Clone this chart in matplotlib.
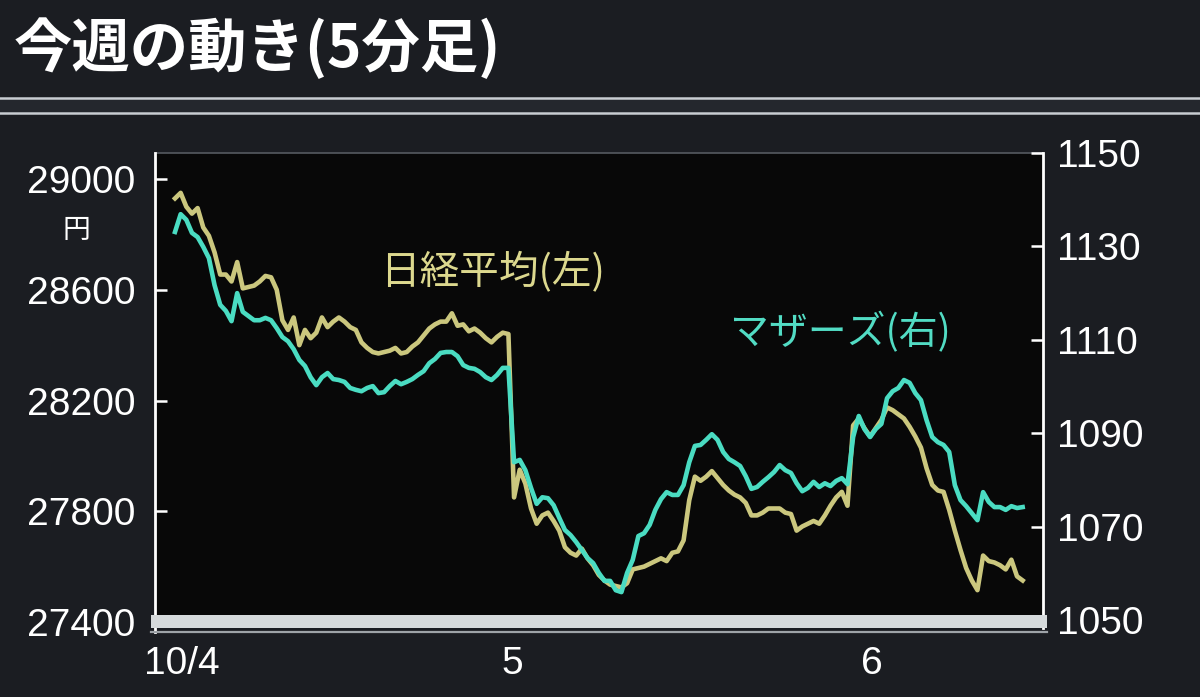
import matplotlib
matplotlib.use('Agg')
import matplotlib.pyplot as plt
from matplotlib.patches import Rectangle
from matplotlib.lines import Line2D

# ---------------- data ----------------
title = '今週の動き(5分足)'
nikkei_label = '日経平均(左)'
mothers_label = 'マザーズ(右)'
yen_unit = '円'

# 5-minute bars: 10/4 (60 bars), 10/5 (60 bars), 10/6 morning (31 bars)
nikkei = [
    28930, 28950, 28900, 28875, 28895, 28825, 28795, 28735, 28655, 28655,
    28630, 28700, 28605, 28610, 28615, 28630, 28650, 28645, 28600, 28490,
    28455, 28500, 28400, 28455, 28425, 28445, 28500, 28465, 28485, 28500,
    28485, 28465, 28455, 28410, 28390, 28375, 28370, 28375, 28380, 28390,
    28370, 28375, 28395, 28410, 28435, 28460, 28475, 28485, 28485, 28515,
    28470, 28475, 28450, 28460, 28445, 28425, 28410, 28430, 28445, 28440,
    27850, 27950, 27900, 27810, 27755, 27785, 27795, 27765, 27730, 27670,
    27650, 27640, 27665, 27630, 27605, 27570, 27550, 27535, 27530, 27525,
    27540, 27590, 27595, 27600, 27610, 27620, 27630, 27620, 27650, 27655,
    27695, 27840, 27925, 27910, 27925, 27945, 27920, 27895, 27875, 27860,
    27850, 27830, 27785, 27785, 27795, 27810, 27810, 27810, 27795, 27790,
    27730, 27745, 27755, 27765, 27755, 27785, 27820, 27850, 27870, 27820,
    28110, 28135, 28100, 28070, 28100, 28130, 28175, 28165, 28150, 28135,
    28105, 28070, 28030, 27955, 27895, 27875, 27870, 27805, 27730, 27660,
    27595, 27550, 27515, 27640, 27620, 27615, 27605, 27590, 27625, 27565, 27550,
]
mothers = [
    1133.1, 1136.9, 1135.7, 1132.9, 1132.0, 1129.9, 1127.5, 1121.7, 1117.5, 1116.2,
    1114.0, 1120.0, 1116.0, 1115.1, 1114.2, 1114.2, 1114.7, 1114.2, 1112.5, 1110.6,
    1109.7, 1108.0, 1105.7, 1104.4, 1102.0, 1100.3, 1102.0, 1102.9, 1101.6, 1101.4,
    1101.0, 1099.7, 1099.3, 1099.0, 1099.7, 1100.1, 1098.6, 1098.8, 1100.1, 1101.2,
    1100.5, 1101.0, 1101.6, 1102.5, 1103.3, 1105.0, 1105.9, 1107.2, 1107.4, 1107.4,
    1106.5, 1104.6, 1104.0, 1103.8, 1103.1, 1102.0, 1101.4, 1102.5, 1104.0, 1104.0,
    1083.8, 1084.3, 1082.1, 1078.3, 1074.9, 1076.3, 1076.1, 1074.6, 1071.9, 1069.3,
    1068.2, 1066.7, 1065.0, 1063.3, 1062.2, 1060.1, 1058.4, 1058.4, 1056.4, 1056.0,
    1060.1, 1062.9, 1068.0, 1068.6, 1070.4, 1073.6, 1075.9, 1077.4, 1076.8, 1076.8,
    1078.9, 1083.8, 1087.3, 1087.5, 1088.6, 1089.8, 1088.6, 1086.0, 1084.5, 1083.8,
    1083.0, 1080.8, 1078.1, 1078.5, 1079.6, 1080.6, 1081.7, 1083.2, 1082.1, 1081.5,
    1079.3, 1077.6, 1078.3, 1079.6, 1078.5, 1079.3, 1078.7, 1079.8, 1080.4, 1079.1,
    1089.2, 1093.7, 1090.9, 1089.2, 1090.9, 1092.0, 1097.5, 1099.0, 1099.7, 1101.4,
    1100.8, 1098.6, 1097.1, 1092.8, 1089.2, 1088.1, 1087.5, 1086.0, 1078.9, 1075.7,
    1074.4, 1072.9, 1071.4, 1077.4, 1075.3, 1074.2, 1074.2, 1073.6, 1074.4, 1074.0, 1074.2,
]
bars = list(range(len(nikkei)))

xtick_labels = ['10/4', '5', '6']
xtick_bars = [1.2, 59.6, 123.4]
left_ticks = [27400, 27800, 28200, 28600, 29000]
right_ticks = [1050, 1070, 1090, 1110, 1130, 1150]

# ---------------- style ----------------
W, H = 1200, 697
BG = '#1b1d22'
PLOT_BG = '#080808'
YELLOW = '#cbc77e'
TEAL = '#4adcc2'
NUM_FONT = ['Liberation Sans', 'Noto Sans CJK JP']
JP_FONT = ['Noto Sans CJK JP', 'DejaVu Sans']

fig = plt.figure(figsize=(W / 100, H / 100), dpi=100)
fig.patch.set_facecolor(BG)


def fx(px):
    return px / W


def fy(py):
    return 1 - py / H


ax_l, ax_r, ax_t, ax_b = 155, 1043, 153, 622
ax = fig.add_axes([fx(ax_l), fy(ax_b), (ax_r - ax_l) / W, (ax_b - ax_t) / H])
ax.set_facecolor(PLOT_BG)
ax.set_xlim(-3.54, 153.6)
ax.set_ylim(27400, 29094)
ax2 = ax.twinx()
ax2.set_ylim(1049.6, 1150)

ax.plot(bars, nikkei, color=YELLOW, lw=3.3, solid_joinstyle='round', zorder=3)
ax2.plot(bars, mothers, color=TEAL, lw=3.3, solid_joinstyle='round', zorder=3)

for a in (ax, ax2):
    for s in a.spines.values():
        s.set_visible(False)
ax.spines['top'].set_visible(True)
ax.spines['top'].set_color('#555a60')
ax.spines['top'].set_linewidth(1.2)

ax.set_xticks(xtick_bars)
ax.set_xticklabels(xtick_labels)
ax.tick_params(axis='x', length=0, pad=17, labelsize=28, labelcolor='white')
for t in ax.get_xticklabels():
    t.set_family(NUM_FONT)

ax.set_yticks(left_ticks)
ax.set_yticklabels([str(v) for v in left_ticks])
ax.tick_params(axis='y', direction='in', length=8.6, width=1.8, color='white',
               pad=14, labelsize=28, labelcolor='white')
for t in ax.get_yticklabels():
    t.set_family(NUM_FONT)

ax2.set_yticks(right_ticks)
ax2.set_yticklabels([str(v) for v in right_ticks])
ax2.tick_params(axis='y', direction='in', length=8.6, width=1.8, color='white',
                pad=10, labelsize=28, labelcolor='white')
for t in ax2.get_yticklabels():
    t.set_family(NUM_FONT)

# axis lines drawn on the figure
fig.add_artist(Line2D([fx(ax_l), fx(ax_l)], [fy(153), fy(632)], color='white', lw=2.0))
fig.add_artist(Line2D([fx(ax_r), fx(ax_r)], [fy(153), fy(628)], color='white', lw=2.0))
# bottom band
fig.add_artist(Rectangle((fx(151), fy(628)), (1047 - 151) / W, 13 / H,
                         facecolor='#d6dadc', edgecolor='none', zorder=5))
fig.add_artist(Line2D([fx(151), fx(1047)], [fy(631.5), fy(631.5)], color='#9ea3a8', lw=1.6, zorder=5))

# title and rules
fig.text(fx(14), fy(49), title, fontsize=42, color='white', fontweight='bold',
         family=JP_FONT, ha='left', va='center')
fig.add_artist(Rectangle((0, fy(112)), 1, 14 / H, facecolor='#24272d', edgecolor='none'))
fig.add_artist(Line2D([0, 1], [fy(98), fy(98)], color='#c9cdd2', lw=1.8))
fig.add_artist(Line2D([0, 1], [fy(113), fy(113)], color='#c9cdd2', lw=1.8))

# unit
fig.text(fx(76), fy(230), yen_unit, fontsize=20, color='white', family=JP_FONT,
         ha='center', va='center')

# series labels
fig.text(fx(380), fy(272), nikkei_label, fontsize=28.5, color='#dcd88e', family=JP_FONT,
         ha='left', va='center')
fig.text(fx(730), fy(333), mothers_label, fontsize=28, color='#52dcc4', family=JP_FONT,
         ha='left', va='center')

fig.savefig('out.png', dpi=100, facecolor=fig.get_facecolor())
